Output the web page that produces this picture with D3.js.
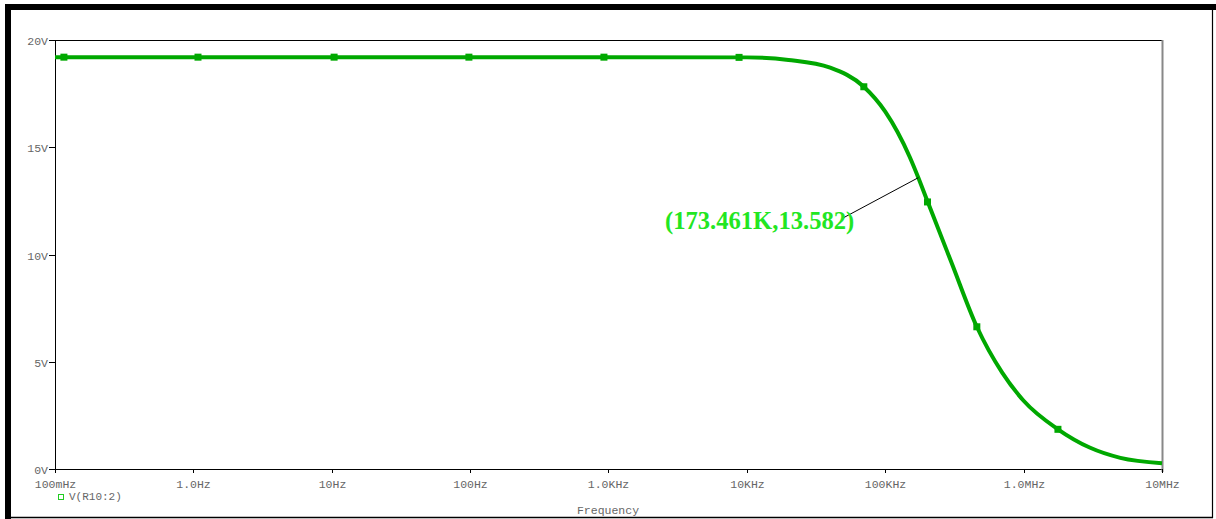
<!DOCTYPE html>
<html>
<head>
<meta charset="utf-8">
<script src="https://cdn.jsdelivr.net/npm/d3@7"></script>
<style>
  html, body { margin: 0; padding: 0; background: #fff; }
  svg { display: block; }
</style>
</head>
<body>
<div id="chart"></div>
<script>
// Data (frequency in Hz, voltage in V)
var freqs = [0.1, 1, 10, 100, 1e3, 1e4, 2e4, 4e4, 7e4, 1e5, 1.5e5, 173461, 2e5, 3e5, 4.59e5, 7e5, 1e6, 1.77e6, 3e6, 5e6, 1e7];
var volts = [19.2, 19.2, 19.2, 19.2, 19.2, 19.19, 19.07, 18.71, 17.82, 16.66, 14.56, 13.582, 12.55, 9.65, 6.63, 4.49, 3.18, 1.85, 1.00, 0.52, 0.27];

var markerFreqs = [0.116, 1.08, 10.4, 98, 927, 8780, 7.0e4, 2.02e5, 4.59e5, 1.77e6];
var markerVolts = [19.2, 19.2, 19.2, 19.2, 19.2, 19.19, 17.82, 12.45, 6.63, 1.85];

var xTicks = [0.1, 1, 10, 100, 1e3, 1e4, 1e5, 1e6, 1e7];
var xTickLabels = ["100mHz", "1.0Hz", "10Hz", "100Hz", "1.0KHz", "10KHz", "100KHz", "1.0MHz", "10MHz"];
var yTicks = [0, 5, 10, 15, 20];
var yTickLabels = ["0V", "5V", "10V", "15V", "20V"];

var cursorFreq = 173461, cursorVolt = 13.582;
var cursorText = "(173.461K,13.582)";
var seriesName = "V(R10:2)";

var drawChart = function() {
    const width = 1216, height = 519;
    const left = 55, right = 1162, top = 40, bottom = 469;
    const green = "#00a800";
    const tickFont = "'Liberation Mono', 'DejaVu Sans Mono', monospace";

    var svg = d3.select("#chart").append("svg")
        .attr("width", width)
        .attr("height", height);

    // outer frame
    svg.append("rect").attr("x", 5).attr("y", 4).attr("width", 1211).attr("height", 6).attr("fill", "#000");
    svg.append("rect").attr("x", 5).attr("y", 4).attr("width", 6).attr("height", 515).attr("fill", "#000");
    svg.append("line").attr("x1", 1212.5).attr("x2", 1212.5).attr("y1", 4).attr("y2", 518).attr("stroke", "#000").attr("stroke-width", 1.2);
    svg.append("line").attr("x1", 5).attr("x2", 1213).attr("y1", 517.5).attr("y2", 517.5).attr("stroke", "#000").attr("stroke-width", 1.5);

    var x = d3.scaleLog().domain([0.1, 1e7]).range([left, right]);
    var y = d3.scaleLinear().domain([0, 20]).range([bottom, top]);

    // plot border
    svg.append("line").attr("x1", left).attr("x2", right).attr("y1", top + 0.5).attr("y2", top + 0.5).attr("stroke", "#000");
    svg.append("line").attr("x1", left + 0.5).attr("x2", left + 0.5).attr("y1", top).attr("y2", bottom).attr("stroke", "#000");
    svg.append("line").attr("x1", left).attr("x2", right).attr("y1", bottom + 0.5).attr("y2", bottom + 0.5).attr("stroke", "#000");
    svg.append("line").attr("x1", right + 0.5).attr("x2", right + 0.5).attr("y1", top).attr("y2", bottom + 3).attr("stroke", "#888").attr("stroke-width", 2);

    // x ticks
    var xg = svg.append("g");
    xTicks.forEach(function(t, i) {
        var px = Math.round(x(t)) + 0.5;
        xg.append("line").attr("x1", px).attr("x2", px).attr("y1", bottom).attr("y2", bottom + 4).attr("stroke", "#000");
        xg.append("text").attr("x", px).attr("y", 488)
            .attr("text-anchor", "middle")
            .attr("font-family", tickFont).attr("font-size", 11.5).attr("fill", "#666")
            .text(xTickLabels[i]);
    });

    // y ticks
    var yg = svg.append("g");
    yTicks.forEach(function(t, i) {
        var py = Math.round(y(t)) + 0.5;
        yg.append("line").attr("x1", left - 6).attr("x2", left).attr("y1", py).attr("y2", py).attr("stroke", "#000");
        yg.append("text").attr("x", left - 7).attr("y", py + 4)
            .attr("text-anchor", "end")
            .attr("font-family", tickFont).attr("font-size", 11.5).attr("fill", "#666")
            .text(yTickLabels[i]);
    });

    // curve
    var pts = freqs.map(function(f, i) { return [f, volts[i]]; });
    var line = d3.line()
        .x(function(d) { return x(d[0]); })
        .y(function(d) { return y(d[1]); })
        .curve(d3.curveMonotoneX);
    svg.append("path").datum(pts)
        .attr("d", line)
        .attr("fill", "none")
        .attr("stroke", green)
        .attr("stroke-width", 4);

    // markers
    svg.append("g").selectAll("rect")
        .data(markerFreqs.map(function(f, i) { return [f, markerVolts[i]]; }))
        .enter().append("rect")
        .attr("x", function(d) { return x(d[0]) - 3.5; })
        .attr("y", function(d) { return y(d[1]) - 3.5; })
        .attr("width", 7).attr("height", 7)
        .attr("fill", green);

    // cursor annotation
    var cx = x(cursorFreq), cy = y(cursorVolt);
    svg.append("line").attr("x1", 843).attr("y1", 218).attr("x2", cx).attr("y2", cy)
        .attr("stroke", "#000").attr("stroke-width", 1);
    svg.append("text").attr("x", 665).attr("y", 229)
        .attr("font-family", "'Liberation Serif', 'Times New Roman', serif")
        .attr("font-weight", "bold").attr("font-size", 24.6)
        .attr("fill", "#22e622")
        .text(cursorText);

    // legend
    svg.append("rect").attr("x", 58.5).attr("y", 494.5).attr("width", 5).attr("height", 5)
        .attr("fill", "none").attr("stroke", "#22cc22").attr("stroke-width", 1);
    svg.append("text").attr("x", 69).attr("y", 500)
        .attr("font-family", tickFont).attr("font-size", 11).attr("fill", "#666")
        .text(seriesName);

    // axis title
    svg.append("text").attr("x", 608).attr("y", 514)
        .attr("text-anchor", "middle")
        .attr("font-family", tickFont).attr("font-size", 11.5).attr("fill", "#666")
        .text("Frequency");
};

window.addEventListener("load", drawChart);
</script>
</body>
</html>
